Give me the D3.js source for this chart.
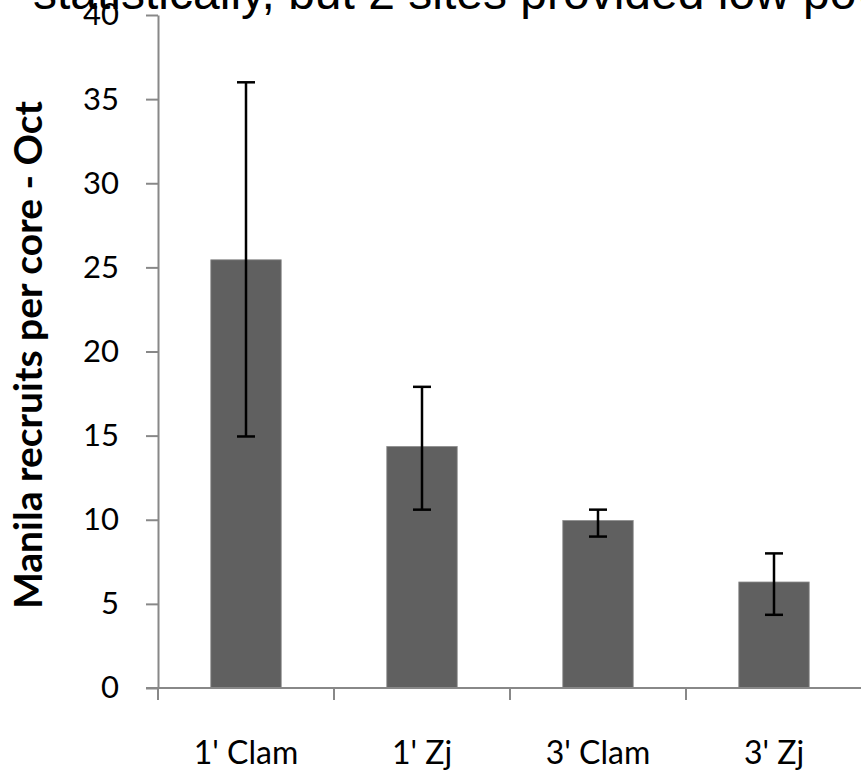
<!DOCTYPE html>
<html><head><meta charset="utf-8">
<script src="https://cdn.jsdelivr.net/npm/d3@7/dist/d3.min.js"></script>
<style>body{margin:0;background:#fff}svg{display:block}</style>
</head><body>
<script>
const categories = ["1' Clam", "1' Zj", "3' Clam", "3' Zj"];
const means = [25.45, 14.35, 9.95, 6.3];
const errLow = [14.95, 10.6, 9.0, 4.35];
const errHigh = [36.0, 17.9, 10.6, 8.0];
const yTicks = [0, 5, 10, 15, 20, 25, 30, 35, 40];
const titleText = "statistically, but 2 sites provided low power";
const yTitle = "Manila recruits per core - Oct";

const W = 861, H = 771;
const svg = d3.select("body").append("svg").attr("width", W).attr("height", H);
const x0 = 158, x1 = 862, yTop = 15, yBot = 688;

const x = d3.scaleBand().domain(categories).range([x0, x1]).paddingInner(0.6).paddingOuter(0.3);
const y = d3.scaleLinear().domain([0, 40]).range([yBot, yTop]);

// title (cropped at top)
svg.append("text").attr("x", 33).attr("y", 9).attr("font-family", "Liberation Sans, Arial, sans-serif")
  .attr("font-size", 48).attr("fill", "#000").text(titleText);

// bars
svg.selectAll("rect.bar").data(categories).join("rect")
  .attr("x", d => x(d)).attr("width", x.bandwidth())
  .attr("y", (d, i) => y(means[i])).attr("height", (d, i) => y(0) - y(means[i]))
  .attr("fill", "#606060").attr("stroke", "#8a8a8a").attr("stroke-width", 0.8);

// y axis
const yAxis = d3.axisLeft(y).tickValues(yTicks).tickSize(12).tickPadding(27).tickSizeOuter(0);
const gy = svg.append("g").attr("transform", `translate(${x0},0)`).call(yAxis);
gy.select(".domain").attr("stroke", "#888").attr("stroke-width", 2);
gy.selectAll(".tick line").attr("stroke", "#888").attr("stroke-width", 2);
gy.selectAll(".tick text").attr("font-family", "Lato, Open Sans, sans-serif").attr("font-size", 31).attr("fill", "#000");

// x axis
const gx = svg.append("g").attr("transform", `translate(0,${yBot})`);
gx.append("line").attr("x1", x0 - 12).attr("x2", W).attr("y1", 0).attr("y2", 0).attr("stroke", "#888").attr("stroke-width", 2);
const step = x.step();
const bounds = d3.range(categories.length).map(i => x0 + i * step);
gx.selectAll("line.tk").data(bounds).join("line").attr("class", "tk")
  .attr("x1", d => d).attr("x2", d => d).attr("y1", 0).attr("y2", 12).attr("stroke", "#888").attr("stroke-width", 2);
gx.selectAll("text").data(categories).join("text")
  .attr("x", d => x(d) + x.bandwidth() / 2).attr("y", 76).attr("text-anchor", "middle")
  .attr("font-family", "Lato, Open Sans, sans-serif").attr("font-size", 32).attr("fill", "#000").text(d => d);

// error bars
const eb = svg.append("g").attr("stroke", "#000").attr("stroke-width", 2.5);
categories.forEach((c, i) => {
  const cx = x(c) + x.bandwidth() / 2;
  eb.append("line").attr("x1", cx).attr("x2", cx).attr("y1", y(errLow[i])).attr("y2", y(errHigh[i]));
  eb.append("line").attr("x1", cx - 9).attr("x2", cx + 9).attr("y1", y(errHigh[i])).attr("y2", y(errHigh[i]));
  eb.append("line").attr("x1", cx - 9).attr("x2", cx + 9).attr("y1", y(errLow[i])).attr("y2", y(errLow[i]));
});

// y title
svg.append("text").attr("transform", "translate(42,355) rotate(-90)").attr("text-anchor", "middle")
  .attr("font-family", "Lato, Open Sans, sans-serif").attr("font-weight", "bold").attr("font-size", 39)
  .attr("fill", "#000").text(yTitle);
</script>
</body></html>
